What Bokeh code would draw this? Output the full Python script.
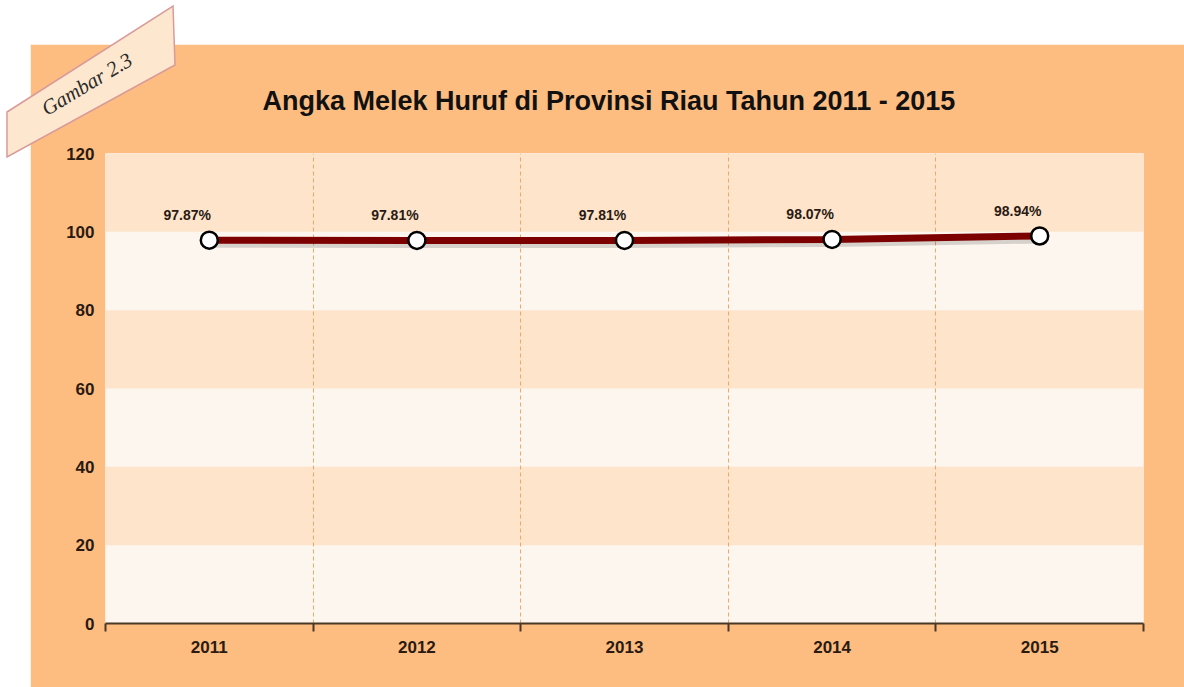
from bokeh.plotting import figure
from bokeh.models import (ColumnDataSource, FixedTicker, LabelSet, Range1d, Div)
from bokeh.layouts import column
from bokeh.core.properties import value
from bokeh.embed import file_html
from bokeh.resources import INLINE

# ---- data ----
years = ["2011", "2012", "2013", "2014", "2015"]
values = [97.87, 97.81, 97.81, 98.07, 98.94]
value_labels = ["97.87%", "97.81%", "97.81%", "98.07%", "98.94%"]
y_ticks = [0, 20, 40, 60, 80, 100, 120]
title_text = "Angka Melek Huruf di Provinsi Riau Tahun 2011 - 2015"
badge_text = "Gambar 2.3"

ORANGE = "#fdbd80"
PEACH = "#fde4cb"
LIGHT = "#fdf6ef"
DARK = "#2a1a12"

W, H = 1154, 643

xs = [i + 0.5 for i in range(len(years))]
src = ColumnDataSource(dict(x=xs, y=values, lab=value_labels,
                            ys=[v - 0.9 for v in values]))

p = figure(width=W, height=H, output_backend="svg", toolbar_location=None,
           x_range=Range1d(0, len(years)), y_range=Range1d(0, 120),
           min_border_left=75, min_border_right=41,
           min_border_top=109, min_border_bottom=64,
           margin=(44, 0, 0, 30))

p.border_fill_color = ORANGE
p.background_fill_color = LIGHT
p.outline_line_color = None

# title
p.title.text = title_text
p.title.text_font = "Liberation Sans"
p.title.text_font_style = "bold"
p.title.text_font_size = "27px"
p.title.text_color = "#111111"
p.title.align = "left"
p.title.offset = 157
p.title.standoff = 75

# grid: bands drawn first, dashed lines on top
p.ygrid.ticker = FixedTicker(ticks=y_ticks)
p.ygrid.grid_line_color = None
p.ygrid.band_fill_color = PEACH
p.ygrid.band_fill_alpha = 1
p.ygrid.level = "image"

xt = FixedTicker(ticks=xs, minor_ticks=list(range(len(years) + 1)))
p.xgrid.ticker = xt
p.xgrid.grid_line_color = None
p.xgrid.minor_grid_line_color = "#f0a866"
p.xgrid.minor_grid_line_dash = "4 3"
p.xgrid.minor_grid_line_width = 1

# axes
p.xaxis.ticker = xt
p.xaxis.major_label_overrides = {x: y for x, y in zip(xs, years)}
p.xaxis.major_tick_line_color = None
p.xaxis.minor_tick_line_color = "#4a3826"
p.xaxis.minor_tick_line_width = 2
p.xaxis.minor_tick_in = 0
p.xaxis.minor_tick_out = 8
p.xaxis.axis_line_color = "#4a3826"
p.xaxis.axis_line_width = 2
p.xaxis.major_label_standoff = 9
p.xaxis.major_label_text_font = "Liberation Sans"
p.xaxis.major_label_text_font_style = "bold"
p.xaxis.major_label_text_font_size = "17px"
p.xaxis.major_label_text_color = DARK

p.yaxis.ticker = FixedTicker(ticks=y_ticks)
p.yaxis.axis_line_color = None
p.yaxis.major_tick_line_color = None
p.yaxis.minor_tick_line_color = None
p.yaxis.major_label_standoff = 5
p.yaxis.major_label_text_font = "Liberation Sans"
p.yaxis.major_label_text_font_style = "bold"
p.yaxis.major_label_text_font_size = "17px"
p.yaxis.major_label_text_color = DARK

# series
p.line("x", "ys", source=src, line_color="#000000", line_alpha=0.15,
       line_width=8)
p.line("x", "y", source=src, line_color="#7d0000", line_width=7)
p.scatter("x", "y", source=src, size=17, fill_color="white",
          line_color="black", line_width=2.5)

p.add_layout(LabelSet(x="x", y="y", text="lab", source=src,
                      x_offset=-22, y_offset=25, text_align="center",
                      text_baseline="middle",
                      text_font=value("Liberation Sans"),
                      text_font_style="bold", text_font_size="14px",
                      text_color=DARK))

# "Gambar" badge ribbon, overlapping page corner and panel
badge_html = (
    '<svg width="190" height="170" xmlns="http://www.w3.org/2000/svg">'
    '<polygon points="7,112 173,6 175,65 7,157" fill="#fde8cf" '
    'stroke="#d99a9a" stroke-width="1.5"/>'
    '<text x="88" y="86" text-anchor="middle" dominant-baseline="middle" '
    'transform="rotate(-31 88 86)" '
    'style="font-family:\'Liberation Serif\',serif;font-style:italic;'
    'font-size:21px;fill:#2a2a2a">'
    + badge_text + '</text></svg>'
)
badge = Div(text=badge_html, width=190, height=170, margin=0,
            styles={"position": "absolute", "left": "0px", "top": "0px",
                    "z-index": "10", "overflow": "visible"})

layout = column(badge, p, margin=0)
open("out.html", "w").write(file_html(layout, INLINE))
